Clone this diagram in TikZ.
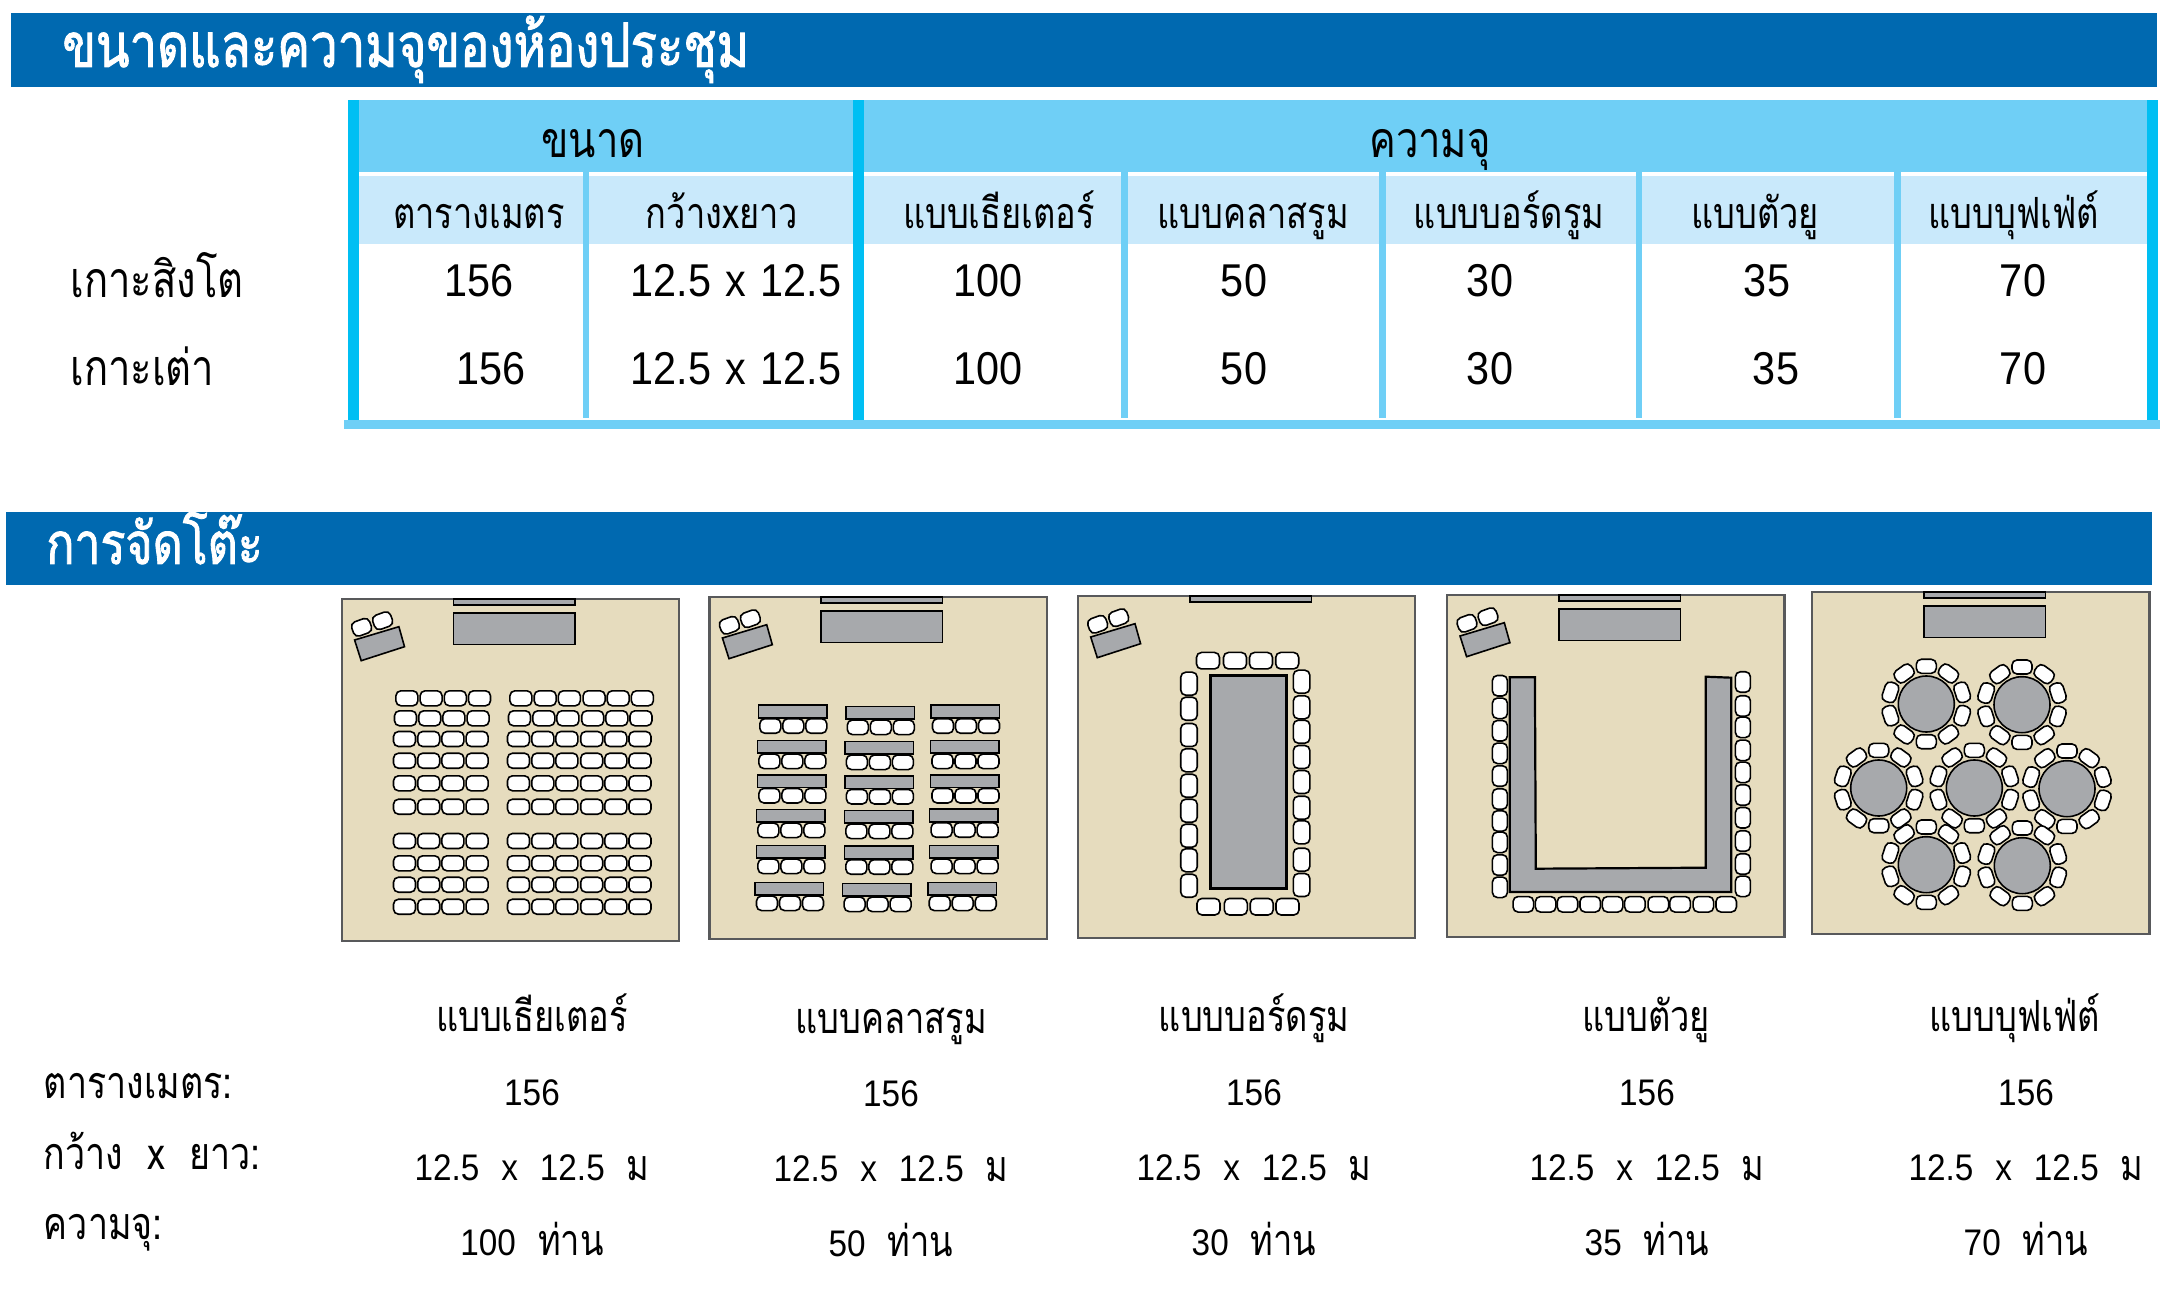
\documentclass[tikz,border=0pt]{standalone}
\usepackage{fontspec}
\setmainfont{Liberation Sans}
\newfontfamily\thaifont[Script=Thai,FakeStretch=0.8]{Loma}
\newfontfamily\thaibold[Script=Thai,FakeStretch=0.8,FakeBold=1.5]{Loma}
\newfontfamily\tablenum[FakeStretch=0.9]{Liberation Sans}
\definecolor{titleblue}{HTML}{0069B0}
\definecolor{headblue}{HTML}{6FCFF6}
\definecolor{subblue}{HTML}{C9E9FB}
\definecolor{barblue}{HTML}{00BFF3}
\definecolor{roomtan}{HTML}{E6DCBE}
\definecolor{roomline}{HTML}{58595B}
\definecolor{deskgray}{HTML}{A7A9AC}
\tikzset{
  roombox/.style={fill=roomtan,draw=roomline,line width=1.1pt},
  deskbox/.style={fill=deskgray,draw=black,line width=.8pt},
  seatbox/.style={fill=white,draw=black,line width=.8pt,rounded corners=2.5pt},
  headtext/.style={anchor=base,inner sep=0pt,font=\fontsize{25}{25}\thaifont},
  subtext/.style={anchor=base,inner sep=0pt,font=\fontsize{21.5}{21.5}\thaifont},
  numtext/.style={anchor=base,inner sep=0pt,font=\fontsize{23}{23}\tablenum},
  sidetext/.style={anchor=base west,inner sep=0pt,font=\fontsize{25}{25}\thaifont},
  lowtext/.style={anchor=base,inner sep=0pt,font=\fontsize{18.5}{18.5}\tablenum},
  lowside/.style={anchor=base west,inner sep=0pt,font=\fontsize{22.4}{22.4}\thaifont}
}
\newcommand{\lowgap}{\hspace{11pt}}
\newcommand{\lowthai}[1]{{\fontsize{21.5}{21.5}\thaifont #1}}
% one seat: x, y, width, height, angle
\newcommand{\seat}[5]{\draw[seatbox,shift={(#1,#2)},rotate=#5] (-#3/2,-#4/2) rectangle (#3/2,#4/2);}
% angled table with two seats, from the corner of a room
\newcommand{\cornerdesk}[2]{
  \begin{scope}[shift={(#1,#2)}]
    \seat{20}{28.3}{19}{15}{20}
    \seat{41}{21.7}{19}{15}{20}
    \draw[deskbox] (13,41) -- (57.3,27.7) -- (62.9,47.7) -- (19.6,61.7) -- cycle;
  \end{scope}
}
% table with three seats below it
\newcommand{\deskrow}[2]{
  \draw[deskbox] (#1,#2) rectangle ++(68.6,12.7);
  \foreach \dx in {12,35,58} {\seat{#1+\dx}{#2+21}{21}{14.5}{0}}
}
\begin{document}
\begin{tikzpicture}[x=.5pt,y=-.5pt]
\useasboundingbox (0,0) rectangle (2165,1294);
% title bars
\fill[titleblue] (11,13) rectangle (2157,87);
\fill[titleblue] (6,512) rectangle (2152,585);
\node[anchor=base west,inner sep=0pt,text=white,font=\fontsize{30.7}{30.7}\thaibold] (title1) at (62,67) {ขนาดและความจุของห้องประชุม};
\node[anchor=base west,inner sep=0pt,text=white,font=\fontsize{29}{29}\thaibold] (title2) at (46,564) {การจัดโต๊ะ};
% table
\fill[headblue] (348,100) rectangle (2158,172);
\fill[subblue] (348,176) rectangle (2158,244);
\foreach \x in {582.5,1121,1379,1635.5,1894} {\fill[headblue] (\x,172) rectangle ++(6.5,246);}
\fill[headblue] (344,420) rectangle (2160,429);
\foreach \x in {348,853,2147} {\fill[barblue] (\x,100) rectangle ++(11,320);}
\node[headtext] (size) at (593,158) {ขนาด};
\node[headtext] (cap) at (1430,158) {ความจุ};
\foreach \x/\t [count=\i] in {479/ตารางเมตร,722/กว้างxยาว,999/แบบเธียเตอร์,1253/แบบคลาสรูม,1509/แบบบอร์ดรูม,1755/แบบตัวยู,2014/แบบบุฟเฟ่ต์}
  {\node[subtext] (sub\i) at (\x,229) {\t};}
\node[sidetext] (isle1) at (70,298) {เกาะสิงโต};
\node[sidetext] (isle2) at (70,386) {เกาะเต่า};
\foreach \x/\t [count=\i] in {479/156,736/12.5\hspace{1.5pt} x \hspace{1.5pt}12.5,988/100,1244/50,1490/30,1767/35,2023/70}
  {\node[numtext] (rowa\i) at (\x,297) {\t};}
\foreach \x/\t [count=\i] in {491/156,736/12.5\hspace{1.5pt} x \hspace{1.5pt}12.5,988/100,1244/50,1490/30,1776/35,2023/70}
  {\node[numtext] (rowb\i) at (\x,385) {\t};}
% rooms
\draw[roombox] (341.6,599) rectangle ++(337.5,342);
\draw[roombox] (709.4,597) rectangle ++(337.5,342);
\draw[roombox] (1077.7,596) rectangle ++(337.5,342);
\draw[roombox] (1447,595) rectangle ++(337.5,342);
\draw[roombox] (1812,592) rectangle ++(337.5,342);
% screens and front tables
\foreach \x/\y in {453.4/599,821/597,1190/596,1559/595,1924/592} {\draw[deskbox] (\x,\y) rectangle ++(121.5,6);}
\foreach \x/\y in {453.4/613,821/611,1559/609,1924/606} {\draw[deskbox] (\x,\y) rectangle ++(121.5,31.5);}
\cornerdesk{341.6}{599}
\cornerdesk{709.4}{597}
\cornerdesk{1077.7}{596}
\cornerdesk{1447}{595}
% theatre
\foreach \y/\o in {698.3/2.4,718.3/1,739/0,760.7/0,783.3/0,806.7/0,841/0,863.3/0,884.7/0,906.7/0} {
  \foreach \x in {404.5,428.7,452.9,477.1,518.5,542.8,566.9,591.7,615.8,640} {\seat{\x+\o}{\y}{22}{15}{0}}
}
% classroom
\deskrow{758.3}{705}   \deskrow{845.8}{706.3} \deskrow{931}{705}
\deskrow{757.4}{740.3} \deskrow{844.9}{741.3} \deskrow{930.5}{740.3}
\deskrow{757.4}{774.7} \deskrow{844.9}{775.7} \deskrow{930.5}{774.7}
\deskrow{756.4}{809.3} \deskrow{844.4}{810.3} \deskrow{929.6}{809}
\deskrow{756.4}{845.3} \deskrow{844.4}{846}   \deskrow{929.6}{845.3}
\deskrow{755}{882.3}   \deskrow{842.6}{883.3} \deskrow{927.7}{882.3}
% boardroom
\draw[deskbox,line width=1.4pt] (1210.4,675.3) rectangle (1286.7,888.3);
\foreach \x in {1208,1235,1261,1287.2} {\seat{\x}{660.7}{23}{16.5}{0}}
\foreach \x in {1208.5,1235.8,1261.7,1287.5} {\seat{\x}{906.7}{23}{16.5}{0}}
\foreach \y in {683.7,708.7,735,760.3,785.7,810.7,835.7,860.3,885.7} {\seat{1189}{\y}{16.5}{23}{0}}
\foreach \y in {681.7,707.3,731.7,757,782,807.7,832.3,859.7,885} {\seat{1301.6}{\y}{16.5}{23}{0}}
% u shape
\draw[deskbox,line width=1.1pt] (1509.7,677.3) -- (1534.9,677.3) -- (1535.8,868.7) -- (1705.8,867.7) -- (1705.8,676.7) -- (1731.3,677.7) -- (1731.3,892) -- (1509.7,892) -- cycle;
\foreach \y in {685.7,708.3,730.7,753.3,776,799,821,842.3,865,887.3} {\seat{1499.9}{\y}{15}{20.5}{0}}
\foreach \y in {682,706,727.3,750.3,772.3,795,817.7,841,864,886.3} {\seat{1742.9}{\y}{15}{20.5}{0}}
\foreach \x in {1523.3,1545.6,1567.5,1590.2,1612.6,1634.9,1658.3,1680.1,1703.4,1726.2} {\seat{\x}{904.3}{20.5}{15.5}{0}}
% banquet
\foreach \cx/\cy in {1926.3/704,2022/704.7,1878.7/788,1974.3/788,2067/788.7,1926.3/864.7,2022.3/865.7} {
  \foreach \a in {90,54,18,-18,-54,-90,-126,-162,-198,-234} {
    \draw[seatbox,shift={(\cx,\cy)},rotate=\a] (30.7,-10) rectangle (44.7,10);
  }
  \draw[deskbox] (\cx,\cy) circle[radius=28];
}
% names under the rooms
\foreach \x/\y/\t [count=\i] in {532/1031/แบบเธียเตอร์,891/1033/แบบคลาสรูม,1254/1031/แบบบอร์ดรูม,1646/1031/แบบตัวยู,2015/1031/แบบบุฟเฟ่ต์}
  {\node[anchor=base,inner sep=0pt,font=\fontsize{21.5}{21.5}\thaifont] (name\i) at (\x,\y) {\t};}
\node[lowside] (side1) at (43.5,1098) {ตารางเมตร:};
\node[lowside] (side2) at (43.5,1169) {กว้าง~~x~~ยาว:};
\node[lowside] (side3) at (43.5,1239) {ความจุ:};
\foreach \x/\y/\n [count=\i] in {532/1105/100,891/1106/50,1254/1105/30,1647/1105/35,2026/1105/70} {
  \node[lowtext] (area\i) at (\x,\y) {156};
  \node[lowtext] (dim\i) at (\x,\y+75) {12.5\lowgap x\lowgap 12.5\lowgap\lowthai{ม}};
  \node[lowtext] (num\i) at (\x,\y+150) {\n\lowgap\lowthai{ท่าน}};
}
\end{tikzpicture}
\end{document}
